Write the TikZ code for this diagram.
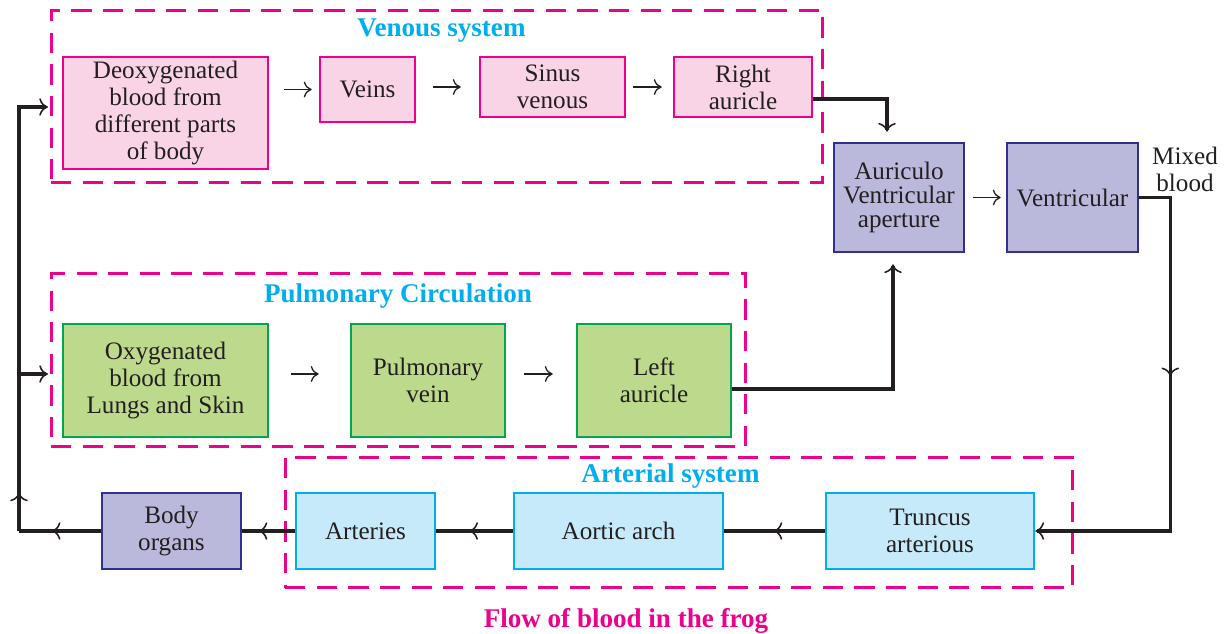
\documentclass[tikz,border=0pt]{standalone}
\usepackage{fontspec}
\setmainfont{Liberation Serif}
\usetikzlibrary{arrows.meta,decorations.markings}

\definecolor{ink}{RGB}{35,31,32}
\definecolor{venline}{RGB}{236,0,140}
\definecolor{venfill}{RGB}{249,212,230}
\definecolor{pulline}{RGB}{0,166,81}
\definecolor{pulfill}{RGB}{189,217,139}
\definecolor{artline}{RGB}{0,174,239}
\definecolor{artfill}{RGB}{199,234,250}
\definecolor{hrtline}{RGB}{46,49,146}
\definecolor{hrtfill}{RGB}{186,184,219}
\definecolor{grpline}{RGB}{236,0,140}
\definecolor{ttlcyan}{RGB}{0,174,239}

\tikzset{% >= To
  organ/.style ={draw, line width=1.5pt, align=center, inner sep=0pt, text=ink,
    font=\fontsize{14.3}{15.4}\selectfont},
  venbox/.style={organ, draw=venline, fill=venfill},
  pulbox/.style={organ, draw=pulline, fill=pulfill},
  artbox/.style={organ, draw=artline, fill=artfill},
  hrtbox/.style={organ, draw=hrtline, fill=hrtfill},
  grpbox/.style={draw=grpline, line width=1.7pt, dash pattern=on 11.5pt off 6.5pt,
    inner sep=0pt},
  grptitle/.style={font=\fontsize{15.4}{16}\selectfont\bfseries, text=ttlcyan, inner sep=0pt},
  link/.style={-{To[length=4.5pt,width=9pt]}, line width=0.75pt, draw=ink},
  flow/.style={line width=1.85pt, draw=ink},
  tip/.style={-{To[length=5pt,width=10pt,line width=0.9pt]}},
  midarrow/.style={postaction={decorate}, decoration={markings,
    mark=at position #1 with {\arrow{To[length=5pt,width=10pt,line width=0.9pt]}}}},
}

\begin{document}
\begin{tikzpicture}[x=0.02cm, y=-0.02cm]
  \useasboundingbox (0,0) rectangle (1230,634);
  % dashed groups
  \node[grpbox, minimum width=15.44cm, minimum height=3.46cm] (venous) at (437, 96.5) {};
  \node[grpbox, minimum width=13.9cm, minimum height=3.48cm] (pulmonary) at (398.5, 360) {};
  \node[grpbox, minimum width=15.76cm, minimum height=2.62cm] (arterial) at (679, 522.5) {};
  \node[grptitle] (ventitle) at (441.5, 31) {Venous system};
  \node[grptitle] (pultitle) at (398, 296) {Pulmonary Circulation};
  \node[grptitle] (arttitle) at (670.5, 476) {Arterial system};
  \node[grptitle, text=grpline] (caption) at (626, 621) {Flow of blood in the frog};

  % venous system
  \node[venbox, minimum width=4.1cm, minimum height=2.24cm] (deoxy) at (165.5, 113)
    {Deoxygenated\\blood from\\different parts\\of body};
  \node[venbox, minimum width=1.9cm, minimum height=1.3cm] (veins) at (367.5, 89.5) {Veins};
  \node[venbox, minimum width=2.9cm, minimum height=1.2cm] (sinus) at (552.5, 87) {Sinus\\venous};
  \node[venbox, minimum width=2.76cm, minimum height=1.2cm] (rauricle) at (743, 87) {Right\\auricle};

  % heart
  \node[hrtbox, minimum width=2.6cm, minimum height=2.18cm] (av) at (899, 197.5)
    {Auriculo\\[-2pt]Ventricular\\[-2pt]aperture};
  \node[hrtbox, minimum width=2.62cm, minimum height=2.18cm] (vent) at (1072.5, 197.5) {Ventricular};
  \node[text=ink, align=center, inner sep=0pt, font=\fontsize{14.3}{15.4}\selectfont] (mixed)
    at (1185, 169) {Mixed\\blood};

  % pulmonary circulation
  \node[pulbox, minimum width=4.1cm, minimum height=2.26cm] (oxy) at (165.5, 380.5)
    {Oxygenated\\blood from\\Lungs and Skin};
  \node[pulbox, minimum width=3.08cm, minimum height=2.26cm] (pulm) at (428, 380.5) {Pulmonary\\vein};
  \node[pulbox, minimum width=3.08cm, minimum height=2.26cm] (lauricle) at (654, 380.5) {Left\\auricle};

  % arterial system
  \node[hrtbox, minimum width=2.78cm, minimum height=1.52cm] (body) at (171.5, 531) {Body\\organs};
  \node[artbox, minimum width=2.78cm, minimum height=1.52cm] (arteries) at (365.5, 531) {Arteries};
  \node[artbox, minimum width=4.18cm, minimum height=1.52cm] (aortic) at (618.5, 531) {Aortic arch};
  \node[artbox, minimum width=4.16cm, minimum height=1.52cm] (truncus) at (930, 531) {Truncus\\arterious};

  \coordinate (bend) at (19, 531);
  \coordinate (venin) at (48, 107);
  \coordinate (pulmin) at (48, 374);

  % short arrows
  \draw[link, shorten <=0.3cm, shorten >=0.14cm] (deoxy.east |- veins.west) -- (veins.west);
  \draw[link, shorten <=0.34cm, shorten >=0.36cm] (veins.east |- sinus.west) -- (sinus.west);
  \draw[link, shorten <=0.14cm, shorten >=0.22cm] (sinus.east) -- (rauricle.west);
  \draw[link, shorten <=0.16cm, shorten >=0.1cm] (av.east) -- (vent.west);
  \draw[link, shorten <=0.44cm, shorten >=0.62cm] ([yshift=0.13cm]oxy.east) -- ([yshift=0.13cm]pulm.west);
  \draw[link, shorten <=0.36cm, shorten >=0.46cm] ([yshift=0.13cm]pulm.east) -- ([yshift=0.13cm]lauricle.west);

  % blood flow
  \draw[flow, tip, shorten >=0.2cm] ([yshift=-0.24cm]rauricle.east) -| ([xshift=-0.24cm]av.north);
  \draw[flow, tip, shorten >=0.22cm] ([yshift=-0.17cm]lauricle.east) -| ([xshift=-0.12cm]av.south);
  \draw[flow, tip, midarrow=0.42] (vent.east) -- ++(31, 0) |- (truncus.east);
  \draw[flow, midarrow=0.51] (truncus.west) -- (aortic.east);
  \draw[flow, midarrow=0.57] (aortic.west) -- (arteries.east);
  \draw[flow, midarrow=0.69] (arteries.west) -- (body.east);
  \draw[flow, midarrow=0.6] (body.west) -- (bend);
  \draw[flow, tip, midarrow=0.085] (bend) |- (venin);
  \draw[flow, tip] (bend |- pulmin) -- (pulmin);
\end{tikzpicture}
\end{document}
